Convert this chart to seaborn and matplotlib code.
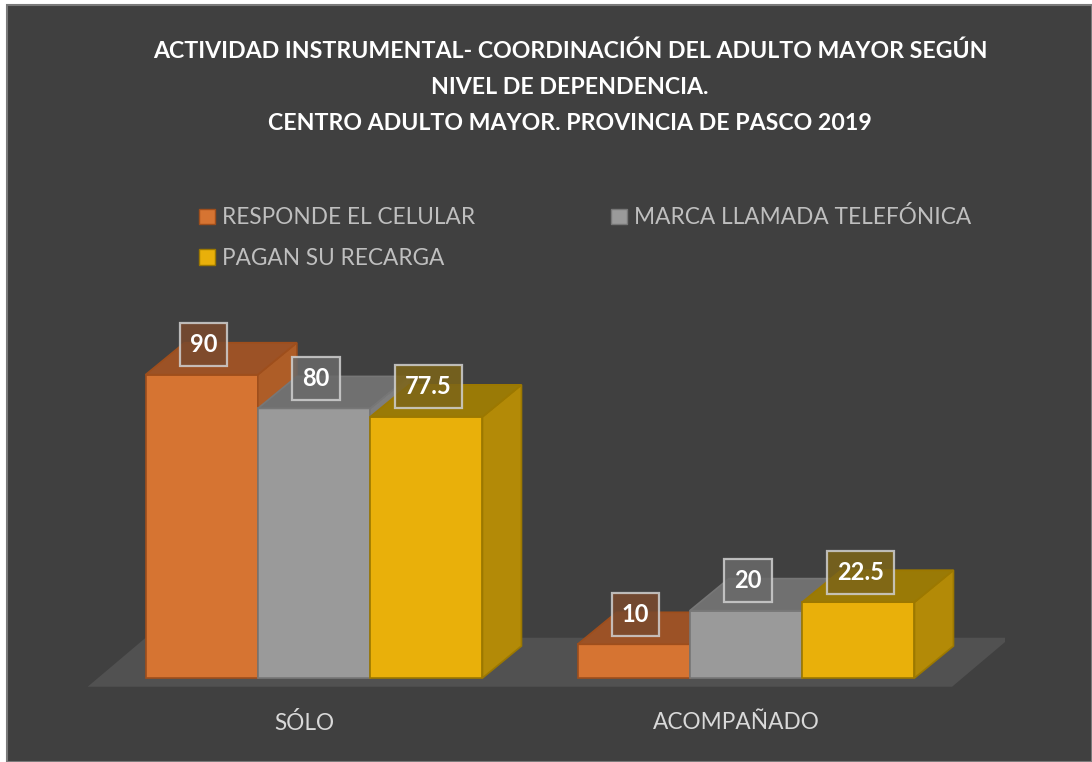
import numpy as np
import pandas as pd
import matplotlib
matplotlib.use("Agg")
import matplotlib.pyplot as plt
import matplotlib.transforms as mtransforms
import seaborn as sns
from matplotlib.patches import Polygon, Rectangle, Patch

# ---- data ----
categories = ["SÓLO", "ACOMPAÑADO"]
series_names = ["RESPONDE EL CELULAR", "MARCA LLAMADA TELEFÓNICA", "PAGAN SU RECARGA"]
responde = [90, 10]
marca = [80, 20]
pagan = [77.5, 22.5]
title_lines = ["ACTIVIDAD INSTRUMENTAL- COORDINACIÓN DEL ADULTO MAYOR SEGÚN",
               "NIVEL DE DEPENDENCIA.",
               "CENTRO ADULTO MAYOR. PROVINCIA DE PASCO 2019"]

df = pd.DataFrame({
    "cat": categories * 3,
    "serie": [series_names[0]] * 2 + [series_names[1]] * 2 + [series_names[2]] * 2,
    "val": responde + marca + pagan,
})

# ---- styles ----
BG = "#404040"
front_cols = {series_names[0]: "#D67432", series_names[1]: "#9A9A9A", series_names[2]: "#E9B00A"}
top_cols = {series_names[0]: "#9C5226", series_names[1]: "#707070", series_names[2]: "#9A7A06"}
side_cols = {series_names[0]: "#AE5D27", series_names[1]: "#7E7E7E", series_names[2]: "#B38A07"}
edge_cols = {series_names[0]: "#9E4E1C", series_names[1]: "#777777", series_names[2]: "#9C7800"}
lab_cols = {series_names[0]: "#7A4A2E", series_names[1]: "#6A6A6A", series_names[2]: "#7D6518"}

sns.set_theme(style="white")
plt.rcParams["font.family"] = ["Lato", "DejaVu Sans"]

W, H = 1092, 762
fig = plt.figure(figsize=(W / 100, H / 100), dpi=100, facecolor="white")
# chart background panel with thin border
bgrect = Rectangle((7 / W, 0), 1 - 7 / W, 1 - 5 / H, transform=fig.transFigure,
                   facecolor=BG, edgecolor="#7A7A7A", linewidth=1.5, zorder=-10)
fig.patches.append(bgrect)

# axes: baseline at y=678px, 3.37 px/unit; category spacing 432 px
px_per_unit = 3.37
y0_px = 678
ax_bottom_px = y0_px + 10 * px_per_unit
ax_top_px = y0_px - 110 * px_per_unit
ax_left_px = 314 - 0.6 * 432
ax_w_px = 2.2 * 432
ax = fig.add_axes([ax_left_px / W, (H - ax_bottom_px) / H, ax_w_px / W,
                   (ax_bottom_px - ax_top_px) / H])
ax.set_facecolor("none")
ax.set_zorder(1)

sns.barplot(data=df, x="cat", y="val", hue="serie", order=categories,
            hue_order=series_names, palette=front_cols, width=0.78, ax=ax,
            saturation=1, legend=False, linewidth=1.2)
ax.set_xlim(-0.6, 1.6)
ax.set_ylim(-10, 110)
for s in ax.spines.values():
    s.set_visible(False)
ax.set_yticks([])
ax.set_xlabel("")
ax.set_ylabel("")
ax.tick_params(axis="x", length=0, pad=0, labelsize=16.3, colors="#D9D9D9")
shift = mtransforms.ScaledTranslation(-10 / 100, 0, fig.dpi_scale_trans)
for lbl in ax.get_xticklabels():
    lbl.set_transform(lbl.get_transform() + shift)

DX, DY = 39, 32  # bar depth offset in pixels
FDX, FDY = 58, 49  # floor depth offset in pixels

# floor (in display coords derived from axis)
tD = ax.transData
xl, xr = ax.get_xlim()
fl = tD.transform([(xl + 0.076, -2.6), (xr - 0.123, -2.6)])
floor = Polygon([(fl[0][0], fl[0][1]), (fl[1][0], fl[1][1]),
                 (fl[1][0] + FDX, fl[1][1] + FDY), (fl[0][0] + FDX, fl[0][1] + FDY)],
                closed=True, transform=None, facecolor="#515151", edgecolor="none", zorder=1)
ax.add_patch(floor)

# bars: sort by x, add 3D faces
bars = [p for p in ax.patches if isinstance(p, Rectangle) and p.get_height() > 0]
ser_of_bar = {}
idx = 0
for s in series_names:
    for c in categories:
        ser_of_bar[id(bars[idx])] = s
        idx += 1
bars_sorted = sorted(bars, key=lambda p: p.get_x())
for rank, p in enumerate(bars_sorted):
    s = ser_of_bar[id(p)]
    z = 3 + rank * 0.1
    p.set_zorder(z)
    p.set_edgecolor(edge_cols[s])
    x0, w, h = p.get_x(), p.get_width(), p.get_height()
    (ax0, ay0), (ax1, ay1) = tD.transform([(x0, 0), (x0 + w, h)])
    top = Polygon([(ax0, ay1), (ax1, ay1), (ax1 + DX, ay1 + DY), (ax0 + DX, ay1 + DY)],
                  closed=True, transform=None, facecolor=top_cols[s],
                  edgecolor=edge_cols[s], linewidth=1.2, zorder=z)
    side = Polygon([(ax1, ay0), (ax1 + DX, ay0 + DY), (ax1 + DX, ay1 + DY), (ax1, ay1)],
                   closed=True, transform=None, facecolor=side_cols[s],
                   edgecolor=edge_cols[s], linewidth=1.2, zorder=z)
    ax.add_patch(side)
    ax.add_patch(top)
    # value label
    cx = (ax0 + ax1) / 2 + 2
    ax.annotate(f"{h:g}", xy=(cx, ay1 + 30), xycoords="figure pixels",
                ha="center", va="center", fontsize=17, fontweight="bold", color="white",
                zorder=10,
                bbox=dict(boxstyle="square,pad=0.42", facecolor=lab_cols[s], alpha=0.85,
                          edgecolor="#D0D0D0", linewidth=1.6))

# title
for i, line in enumerate(title_lines):
    fig.text(570 / W, 1 - (51 + i * 36.5) / H, line, ha="center", va="center",
             fontsize=16.7, fontweight="bold", color="white")

# legend
handles = [Patch(facecolor=front_cols[s], edgecolor=edge_cols[s], label=s) for s in series_names]
order = [0, 2, 1]
leg = fig.legend([handles[i] for i in order], [series_names[i] for i in order],
                 loc="upper left", bbox_to_anchor=(179 / W, 1 - 186 / H), ncol=2,
                 frameon=False, fontsize=16.3, labelcolor="#BFBFBF", handlelength=0.7,
                 handleheight=0.7, handletextpad=0.3, columnspacing=6.0, labelspacing=0.88)

fig.savefig("out.png", dpi=100, facecolor="white")
